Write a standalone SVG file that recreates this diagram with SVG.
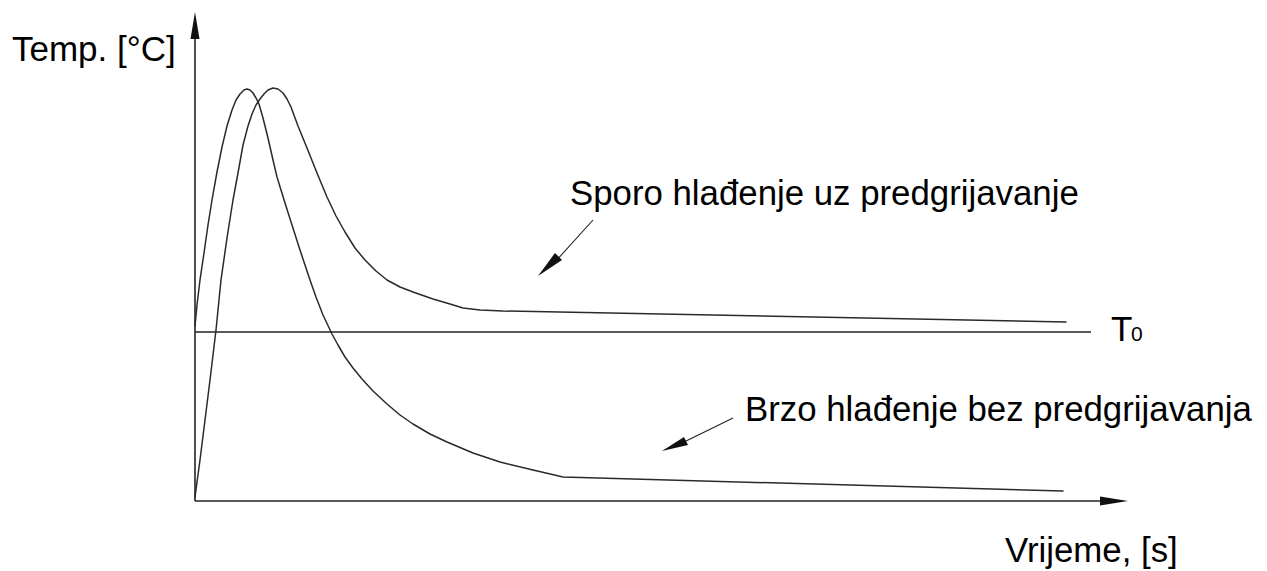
<svg xmlns="http://www.w3.org/2000/svg" width="1267" height="571" viewBox="0 0 1267 571">
<style>
.ax{stroke:#222;stroke-width:1.6;fill:none}
.cv{stroke:#2a2a2a;stroke-width:1.5;fill:none;stroke-linejoin:round;stroke-linecap:round}
.ld{stroke:#222;stroke-width:1.1;fill:none}
.hd{fill:#111;stroke:none}
text{font-family:"Liberation Sans",Arial,sans-serif;font-size:34.8px;fill:#000}
</style>
<rect width="1267" height="571" fill="#fff"/>
<g id="axes">
<line class="ax" x1="195" y1="501" x2="195" y2="20"/>
<polygon class="hd" points="195,12 199.5,39 190.5,39"/>
<line class="ax" x1="195" y1="501" x2="1110" y2="501"/>
<polygon class="hd" points="1128,501 1100,496.5 1100,505.5"/>
<line class="ax" x1="195" y1="332" x2="1091" y2="332"/>
</g>
<g id="curve-fast">
<polyline class="cv" points="195,326 197,305 200,280 204,253 208,225 212,200 217,172 222,147 227,126 232,110 236,100 240,94 244,90 247,89 250,90 253,93 256,98 259,104 263,118 268,138 273,160 277,177 285,203 292,225 300,250 310,280 316,297 323,315 332,334 338,345 345,357 353,368 362,379 373,391 387,404 400,415 413,424 430,434 447,442 473,453 500,462 533,470 563,477 1063,491"/>
</g>
<g id="curve-slow">
<polyline class="cv" points="195,497 200,460 205,420 210,380 216,330 221,280 227,238 233,200 238,173 243,145 248,126 252,114 256,105 260,99 264,94 268,90 273,88 278,89 283,93 287,99 291,107 298,126 307,148 317,173 327,197 336,216 345,232 355,248 365,260 376,271 387,280 400,287 413,292 433,299 450,304 463,308 480,310 503,311 1066,322"/>
</g>
<g id="connectors">
<line class="ld" x1="593" y1="220" x2="555" y2="262"/>
<polygon class="hd" points="538,276 555,253 562,260"/>
<line class="ld" x1="733" y1="418" x2="682" y2="443"/>
<polygon class="hd" points="662,451 684,437 688,445"/>
</g>
<g id="label-ylabel"><text x="12" y="61" style="font-size:35px">Temp. [°C]</text></g>
<g id="label-xlabel"><text x="1005" y="562">Vrijeme, [s]</text></g>
<g id="label-t0"><text x="1111" y="341" style="font-size:35px">T</text><text x="1131" y="341" style="font-size:21px">0</text></g>
<g id="label-slow"><text x="570" y="205">Sporo hlađenje uz predgrijavanje</text></g>
<g id="label-fast"><text x="745" y="421">Brzo hlađenje bez predgrijavanja</text></g>
</svg>
